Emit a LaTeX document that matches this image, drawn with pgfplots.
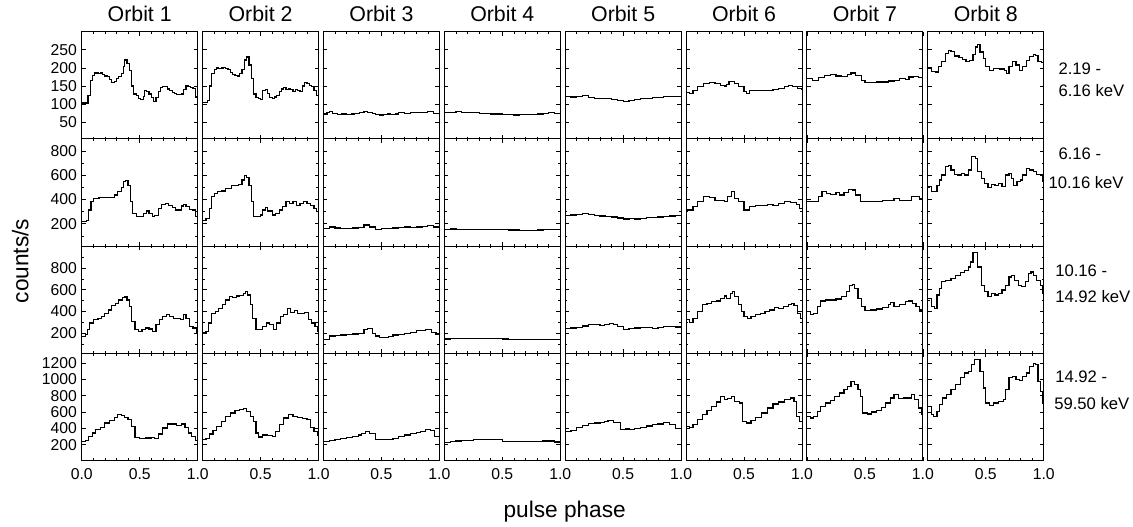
\documentclass[border=0pt]{standalone}
\usepackage{fontspec}
\setmainfont{Liberation Sans}
\usepackage{pgfplots}
\pgfplotsset{compat=1.18}
\usepgfplotslibrary{groupplots}
\usetikzlibrary{calc}

% one style per energy band (row)
\pgfplotsset{
  r1/.style={ymin=4, ymax=300, ytick={50,100,150,200,250}},
  r2/.style={ymin=15, ymax=900, ytick={200,400,600,800}, minor ytick={100,300,500,700}},
  r3/.style={ymin=15, ymax=1000, ytick={200,400,600,800}, minor ytick={100,300,500,700,900}},
  r4/.style={ymin=3, ymax=1320, ytick={200,400,600,800,1000,1200}},
}

\begin{document}
\begin{tikzpicture}
\begin{groupplot}[
  group style={group size=8 by 4, group name=G,
    horizontal sep=3.65pt, vertical sep=0pt,
    xticklabels at=edge bottom, yticklabels at=edge left},
  scale only axis, width=87pt, height=80.44pt,
  xmin=0, xmax=1, xtick={0,0.5,1},
  minor xtick={0.1,0.2,0.3,0.4,0.6,0.7,0.8,0.9},
  xticklabels={0.0,0.5,1.0},
  tick pos=both, tick align=inside,
  major tick length=3pt, minor tick length=1.7pt,
  axis line style={line width=0.7pt},
  every tick/.style={black, line width=0.5pt},
  ticklabel style={font=\fontsize{11.8}{12}\selectfont},
  xticklabel style={yshift=-2.5pt},
  /pgf/number format/assume math mode=true,
  yticklabel style={/pgf/number format/1000 sep={}},
  every axis plot post/.append style={const plot, black, line width=0.9pt, mark=none},
]
% ---------------- 2.19 - 6.16 keV
\nextgroupplot[r1]
\addplot coordinates {(0,103)(0.04,103)(0.055,124)(0.075,165)(0.09,180)(0.11,186)(0.14,184)(0.16,186)(0.18,182)(0.2,178)(0.22,176)(0.24,168)(0.26,160)(0.28,162)(0.3,170)(0.32,176)(0.34,185)(0.36,205)(0.37,222)(0.39,212)(0.41,192)(0.43,150)(0.45,128)(0.47,124)(0.49,116)(0.51,112)(0.53,122)(0.54,138)(0.56,135)(0.58,128)(0.6,118)(0.62,108)(0.64,118)(0.66,135)(0.68,145)(0.7,148)(0.72,148)(0.74,142)(0.76,138)(0.78,133)(0.8,130)(0.82,127)(0.84,126)(0.86,128)(0.88,140)(0.9,150)(0.92,148)(0.94,146)(0.96,143)(0.98,120)(1,120)};
\nextgroupplot[r1]
\addplot coordinates {(0,104)(0.02,104)(0.04,110)(0.06,150)(0.08,185)(0.1,196)(0.12,200)(0.14,198)(0.16,200)(0.18,202)(0.2,198)(0.22,196)(0.24,188)(0.26,182)(0.28,180)(0.3,178)(0.32,185)(0.34,195)(0.36,222)(0.38,230)(0.4,208)(0.42,170)(0.44,128)(0.46,118)(0.48,115)(0.5,113)(0.52,138)(0.54,140)(0.56,130)(0.58,118)(0.6,116)(0.62,120)(0.64,124)(0.66,135)(0.68,142)(0.7,145)(0.72,140)(0.74,142)(0.76,140)(0.78,136)(0.8,140)(0.82,138)(0.84,136)(0.86,150)(0.88,160)(0.9,158)(0.92,152)(0.94,148)(0.96,138)(0.98,125)(1,125)};
\nextgroupplot[r1]
\addplot coordinates {(0,73)(0.03,76)(0.05,79)(0.08,75)(0.12,72)(0.16,73)(0.2,71)(0.24,73)(0.27,75)(0.31,77)(0.35,79)(0.38,77)(0.42,75)(0.45,72)(0.48,70)(0.52,72)(0.55,73)(0.58,71)(0.62,73)(0.65,76)(0.7,74)(0.75,76)(0.8,78)(0.85,77)(0.9,80)(0.95,75)(1,75)};
\nextgroupplot[r1]
\addplot coordinates {(0,76)(0.05,77)(0.1,79)(0.15,78)(0.2,76)(0.3,75)(0.35,74)(0.4,73)(0.5,72)(0.55,71)(0.6,70)(0.65,71)(0.7,72)(0.75,72)(0.8,73)(0.85,74)(0.9,76)(0.95,75)(1,77)};
\nextgroupplot[r1]
\addplot coordinates {(0,121)(0.05,120)(0.1,122)(0.15,124)(0.2,119)(0.25,116)(0.3,116)(0.35,115)(0.4,113)(0.45,111)(0.5,107)(0.55,111)(0.6,112)(0.65,115)(0.7,116)(0.75,118)(0.8,119)(0.85,122)(0.9,122)(0.95,121)(1,120)};
\nextgroupplot[r1]
\addplot coordinates {(0,132)(0.03,129)(0.06,138)(0.1,148)(0.15,157)(0.2,160)(0.25,157)(0.3,152)(0.33,150)(0.35,154)(0.37,162)(0.4,163)(0.42,157)(0.45,148)(0.5,134)(0.52,129)(0.55,137)(0.6,138)(0.7,138)(0.75,140)(0.8,143)(0.85,148)(0.88,152)(0.92,148)(0.96,143)(1,140)};
\nextgroupplot[r1]
\addplot coordinates {(0,171)(0.05,166)(0.1,173)(0.15,180)(0.2,182)(0.25,178)(0.3,177)(0.35,182)(0.38,186)(0.42,180)(0.47,166)(0.5,160)(0.55,159)(0.6,161)(0.65,161)(0.7,164)(0.75,166)(0.8,171)(0.85,169)(0.88,175)(0.92,177)(0.96,173)(1,164)};
\nextgroupplot[r1]
\addplot coordinates {(0,200)(0.03,191)(0.07,189)(0.09,203)(0.12,217)(0.15,240)(0.18,247)(0.2,246)(0.23,233)(0.27,228)(0.3,224)(0.33,217)(0.36,221)(0.39,236)(0.41,258)(0.43,265)(0.45,244)(0.48,226)(0.5,203)(0.53,194)(0.57,199)(0.62,197)(0.66,194)(0.68,185)(0.7,203)(0.73,217)(0.76,208)(0.79,194)(0.82,203)(0.85,221)(0.88,231)(0.91,237)(0.93,235)(0.95,217)(0.98,214)(1,210)};
% ---------------- 6.16 - 10.16 keV
\nextgroupplot[r2]
\addplot coordinates {(0,217)(0.04,230)(0.06,313)(0.08,382)(0.1,409)(0.15,420)(0.2,417)(0.25,415)(0.28,437)(0.31,464)(0.34,497)(0.36,547)(0.38,558)(0.4,519)(0.42,382)(0.44,285)(0.47,263)(0.5,258)(0.53,285)(0.56,305)(0.58,285)(0.61,258)(0.63,266)(0.66,327)(0.69,360)(0.72,368)(0.75,354)(0.78,332)(0.81,313)(0.84,313)(0.86,346)(0.88,360)(0.9,341)(0.93,321)(0.96,313)(0.98,258)(1,258)};
\nextgroupplot[r2]
\addplot coordinates {(0,230)(0.03,244)(0.06,327)(0.08,423)(0.1,450)(0.13,464)(0.16,470)(0.2,492)(0.25,514)(0.28,519)(0.31,525)(0.34,561)(0.36,596)(0.38,580)(0.4,519)(0.42,382)(0.44,258)(0.47,258)(0.5,272)(0.52,313)(0.54,332)(0.56,305)(0.6,272)(0.63,285)(0.66,313)(0.69,341)(0.72,382)(0.75,368)(0.78,382)(0.81,354)(0.84,368)(0.87,387)(0.9,368)(0.93,354)(0.96,327)(0.98,300)(1,300)};
\nextgroupplot[r2]
\addplot coordinates {(0,159)(0.05,173)(0.1,165)(0.15,159)(0.2,162)(0.25,165)(0.3,170)(0.35,190)(0.4,173)(0.45,151)(0.5,159)(0.55,162)(0.6,165)(0.65,170)(0.7,173)(0.75,168)(0.8,173)(0.85,178)(0.9,186)(0.95,173)(1,160)};
\nextgroupplot[r2]
\addplot coordinates {(0,156)(0.05,157)(0.1,155)(0.15,154)(0.2,155)(0.25,153)(0.3,152)(0.35,153)(0.4,150)(0.45,151)(0.5,151)(0.55,149)(0.6,148)(0.65,146)(0.7,145)(0.75,147)(0.8,148)(0.85,150)(0.9,153)(0.95,154)(1,156)};
\nextgroupplot[r2]
\addplot coordinates {(0,269)(0.05,272)(0.1,278)(0.15,283)(0.2,279)(0.25,269)(0.3,265)(0.35,262)(0.4,256)(0.45,248)(0.5,239)(0.55,241)(0.6,240)(0.65,245)(0.7,250)(0.75,252)(0.8,256)(0.85,260)(0.9,264)(0.95,266)(1,266)};
\nextgroupplot[r2]
\addplot coordinates {(0,313)(0.03,313)(0.06,341)(0.1,382)(0.15,423)(0.2,415)(0.25,395)(0.3,395)(0.33,382)(0.36,423)(0.39,464)(0.42,409)(0.45,382)(0.5,313)(0.55,341)(0.6,354)(0.65,349)(0.7,360)(0.75,349)(0.8,368)(0.85,387)(0.9,376)(0.95,360)(0.98,327)(1,327)};
\nextgroupplot[r2]
\addplot coordinates {(0,387)(0.05,382)(0.1,423)(0.13,464)(0.17,450)(0.2,442)(0.25,459)(0.28,437)(0.32,459)(0.36,486)(0.39,478)(0.42,437)(0.46,387)(0.5,382)(0.55,387)(0.6,387)(0.65,390)(0.7,395)(0.75,409)(0.8,395)(0.85,395)(0.9,423)(0.94,423)(0.97,409)(1,395)};
\nextgroupplot[r2]
\addplot coordinates {(0,506)(0.03,464)(0.06,464)(0.08,519)(0.1,561)(0.12,602)(0.15,671)(0.18,679)(0.2,643)(0.23,607)(0.26,602)(0.29,616)(0.32,602)(0.35,643)(0.38,753)(0.41,740)(0.43,629)(0.46,574)(0.49,533)(0.52,497)(0.55,525)(0.58,519)(0.61,533)(0.64,506)(0.67,602)(0.7,616)(0.72,574)(0.74,519)(0.77,547)(0.8,561)(0.82,602)(0.85,657)(0.88,643)(0.91,629)(0.94,607)(0.97,602)(0.99,547)(1,547)};
% ---------------- 10.16 - 14.92 keV
\nextgroupplot[r3]
\addplot coordinates {(0,173)(0.03,188)(0.05,233)(0.07,294)(0.1,330)(0.14,339)(0.17,355)(0.2,385)(0.23,415)(0.26,452)(0.29,476)(0.32,506)(0.35,527)(0.37,533)(0.39,506)(0.41,445)(0.43,309)(0.46,233)(0.49,218)(0.52,233)(0.55,249)(0.58,239)(0.61,218)(0.64,279)(0.67,324)(0.7,355)(0.73,370)(0.76,355)(0.79,339)(0.82,333)(0.85,324)(0.88,376)(0.9,339)(0.93,264)(0.96,249)(0.99,203)(1,203)};
\nextgroupplot[r3]
\addplot coordinates {(0,203)(0.03,218)(0.05,294)(0.08,385)(0.11,400)(0.14,430)(0.17,461)(0.2,506)(0.23,536)(0.26,527)(0.29,542)(0.32,545)(0.35,567)(0.37,582)(0.39,551)(0.41,461)(0.43,339)(0.46,233)(0.49,233)(0.52,264)(0.55,294)(0.58,279)(0.61,233)(0.64,294)(0.67,355)(0.7,370)(0.73,430)(0.76,394)(0.79,406)(0.82,385)(0.85,385)(0.88,394)(0.91,324)(0.94,294)(0.97,264)(0.99,218)(1,218)};
\nextgroupplot[r3]
\addplot coordinates {(0,145)(0.05,175)(0.1,180)(0.15,184)(0.2,188)(0.25,193)(0.3,199)(0.35,236)(0.38,245)(0.42,199)(0.45,175)(0.48,160)(0.52,163)(0.56,172)(0.6,184)(0.65,190)(0.7,199)(0.75,210)(0.8,224)(0.84,228)(0.88,236)(0.93,205)(0.97,190)(1,154)};
\nextgroupplot[r3]
\addplot coordinates {(0,148)(0.05,149)(0.1,151)(0.15,152)(0.2,154)(0.25,153)(0.3,152)(0.35,151)(0.4,151)(0.45,149)(0.5,147)(0.55,145)(0.6,142)(0.65,142)(0.7,141)(0.75,142)(0.8,142)(0.85,143)(0.9,144)(0.95,145)(1,145)};
\nextgroupplot[r3]
\addplot coordinates {(0,245)(0.05,248)(0.1,254)(0.15,268)(0.2,284)(0.25,280)(0.3,275)(0.34,282)(0.38,290)(0.42,280)(0.45,266)(0.5,236)(0.55,245)(0.6,248)(0.65,254)(0.7,250)(0.75,245)(0.8,255)(0.85,266)(0.9,262)(0.95,258)(1,254)};
\nextgroupplot[r3]
\addplot coordinates {(0,324)(0.03,303)(0.06,339)(0.1,400)(0.14,461)(0.18,476)(0.22,491)(0.26,497)(0.3,521)(0.33,542)(0.35,521)(0.38,567)(0.4,582)(0.42,536)(0.45,461)(0.48,400)(0.5,355)(0.53,339)(0.56,355)(0.6,370)(0.64,385)(0.68,400)(0.72,415)(0.76,436)(0.8,430)(0.84,445)(0.88,461)(0.91,476)(0.93,455)(0.96,385)(0.99,339)(1,339)};
\nextgroupplot[r3]
\addplot coordinates {(0,400)(0.03,376)(0.06,385)(0.09,445)(0.12,497)(0.16,506)(0.2,506)(0.25,515)(0.3,536)(0.34,582)(0.37,636)(0.39,648)(0.41,612)(0.44,521)(0.47,445)(0.5,406)(0.55,415)(0.6,424)(0.65,436)(0.7,461)(0.72,485)(0.75,445)(0.8,461)(0.85,491)(0.88,497)(0.91,476)(0.94,445)(0.97,415)(0.99,400)(1,400)};
\nextgroupplot[r3]
\addplot coordinates {(0,521)(0.03,445)(0.06,430)(0.08,551)(0.1,612)(0.12,673)(0.15,688)(0.2,703)(0.24,733)(0.28,758)(0.32,779)(0.35,809)(0.37,855)(0.39,945)(0.41,939)(0.43,809)(0.46,642)(0.49,582)(0.52,536)(0.55,567)(0.58,551)(0.61,567)(0.64,597)(0.67,642)(0.7,718)(0.72,733)(0.75,688)(0.78,642)(0.81,627)(0.84,673)(0.87,749)(0.89,764)(0.91,733)(0.94,688)(0.97,642)(0.99,567)(1,567)};
% ---------------- 14.92 - 59.50 keV
\nextgroupplot[r4, xticklabels={0.0,0.5,1.0}]
\addplot coordinates {(0,241)(0.03,249)(0.06,303)(0.09,344)(0.12,385)(0.16,413)(0.2,466)(0.24,495)(0.28,536)(0.31,569)(0.34,561)(0.37,536)(0.4,507)(0.43,425)(0.46,290)(0.5,274)(0.55,282)(0.6,290)(0.63,274)(0.66,331)(0.7,405)(0.74,454)(0.78,454)(0.82,438)(0.86,454)(0.89,413)(0.92,344)(0.95,303)(0.98,249)(1,249)};
\nextgroupplot[r4, xticklabels={{},0.5,1.0}]
\addplot coordinates {(0,262)(0.03,274)(0.06,331)(0.09,372)(0.12,425)(0.16,487)(0.2,548)(0.24,589)(0.28,618)(0.32,630)(0.35,643)(0.38,610)(0.41,548)(0.44,487)(0.46,344)(0.48,295)(0.52,320)(0.56,310)(0.6,300)(0.63,364)(0.66,446)(0.7,528)(0.74,569)(0.78,548)(0.82,536)(0.86,520)(0.9,507)(0.93,413)(0.96,364)(0.99,315)(1,315)};
\nextgroupplot[r4, xticklabels={{},0.5,1.0}]
\addplot coordinates {(0,238)(0.05,248)(0.1,259)(0.15,275)(0.2,292)(0.25,305)(0.3,320)(0.33,340)(0.36,361)(0.4,341)(0.45,267)(0.5,259)(0.55,268)(0.6,280)(0.65,300)(0.7,320)(0.75,335)(0.8,349)(0.84,365)(0.88,382)(0.92,374)(0.96,300)(1,238)};
\nextgroupplot[r4, xticklabels={{},0.5,1.0}]
\addplot coordinates {(0,226)(0.05,235)(0.1,245)(0.15,251)(0.2,256)(0.25,260)(0.3,264)(0.35,267)(0.4,262)(0.45,259)(0.5,238)(0.55,236)(0.6,238)(0.65,236)(0.7,238)(0.75,240)(0.8,242)(0.85,244)(0.9,246)(0.95,232)(1,218)};
\nextgroupplot[r4, xticklabels={{},0.5,1.0}]
\addplot coordinates {(0,361)(0.05,374)(0.1,411)(0.15,435)(0.2,456)(0.25,465)(0.3,472)(0.34,485)(0.37,497)(0.42,472)(0.48,390)(0.52,392)(0.55,390)(0.6,402)(0.65,415)(0.7,430)(0.75,443)(0.8,455)(0.85,472)(0.9,443)(0.95,402)(1,382)};
\nextgroupplot[r4, xticklabels={{},0.5,1.0}]
\addplot coordinates {(0,425)(0.03,413)(0.06,446)(0.1,507)(0.14,569)(0.18,618)(0.22,671)(0.26,725)(0.3,794)(0.33,753)(0.36,766)(0.39,794)(0.42,733)(0.46,712)(0.49,487)(0.52,466)(0.56,495)(0.6,536)(0.65,589)(0.7,651)(0.75,700)(0.8,725)(0.85,753)(0.9,774)(0.93,733)(0.95,548)(0.98,487)(1,487)};
\nextgroupplot[r4, xticklabels={{},0.5,1.0}]
\addplot coordinates {(0,548)(0.03,528)(0.06,548)(0.09,610)(0.12,671)(0.16,712)(0.2,741)(0.24,794)(0.28,835)(0.32,876)(0.35,917)(0.38,979)(0.41,938)(0.44,876)(0.46,794)(0.48,589)(0.52,577)(0.56,602)(0.6,618)(0.64,659)(0.68,712)(0.72,774)(0.75,815)(0.79,766)(0.83,774)(0.87,774)(0.9,815)(0.93,753)(0.96,651)(0.99,569)(1,569)};
\nextgroupplot[r4, xticklabels={{},0.5,1.0}]
\addplot coordinates {(0,671)(0.03,569)(0.05,548)(0.08,610)(0.1,692)(0.13,774)(0.16,815)(0.2,876)(0.24,938)(0.28,1020)(0.32,1081)(0.35,1102)(0.38,1184)(0.4,1245)(0.43,1245)(0.45,1102)(0.48,897)(0.5,712)(0.53,684)(0.57,712)(0.61,733)(0.65,753)(0.67,876)(0.7,1020)(0.73,1040)(0.76,999)(0.79,987)(0.82,1040)(0.85,1081)(0.88,1163)(0.91,1192)(0.93,1184)(0.95,979)(0.97,856)(0.99,712)(1,712)};
\end{groupplot}

% panel titles
\foreach \i in {1,...,8}
  \node[anchor=base, font=\fontsize{16}{16}\selectfont, inner sep=0pt]
    at ($(G c\i r1.north)+(0,7.5pt)$) {Orbit \i};

% labels placed in image pixels
\coordinate (O) at ($(G c1r1.north west)+(-61.275pt,23.775pt)$);
\begin{scope}[shift={(O)}, x=0.75pt, y=-0.75pt]
  \node[rotate=90, anchor=base, inner sep=0pt, font=\fontsize{17}{17}\selectfont] at (28.3,261) {counts/s};
  \node[anchor=base, inner sep=0pt, font=\fontsize{17}{17}\selectfont] at (564.7,517.5) {pulse phase};
  \begin{scope}[every node/.style={anchor=base west, inner sep=0pt, font=\fontsize{12.5}{13}\selectfont}]
    \node at (1058.3,75) {2.19 -};
    \node at (1058.3,96.7) {6.16 keV};
    \node at (1058.3,160) {6.16 -};
    \node at (1048.3,188.3) {10.16 keV};
    \node at (1055,276.7) {10.16 -};
    \node at (1055,302.7) {14.92 keV};
    \node at (1055,382.7) {14.92 -};
    \node at (1054,409.3) {59.50 keV};
  \end{scope}
  \pgfresetboundingbox
  \path (0,0) rectangle (1133,527);
\end{scope}
\end{tikzpicture}
\end{document}
